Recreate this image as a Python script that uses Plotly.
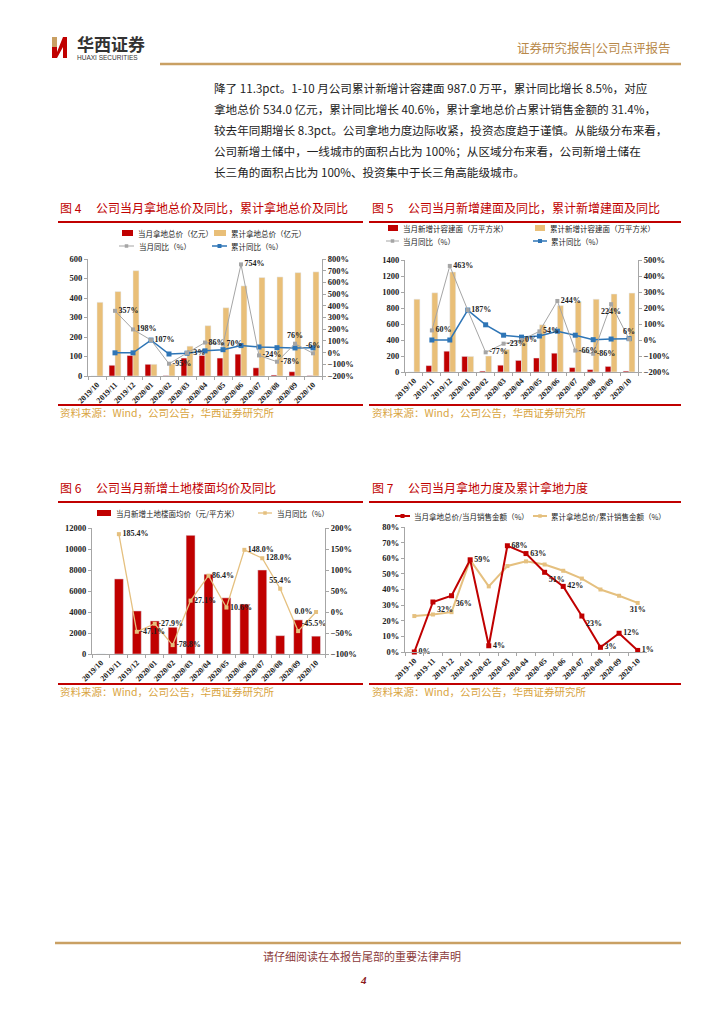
import plotly.graph_objects as go

W, H = 724, 1024
OFF = 8  # page body margin of the browser
def px(x): return (x - OFF) / W
def py(y): return 1 - (y - OFF) / H

# ---------------- data ----------------
months_slash = ["2019/10", "2019/11", "2019/12", "2020/01", "2020/02", "2020/03", "2020/04",
                "2020/05", "2020/06", "2020/07", "2020/08", "2020/09", "2020/10"]
months_dash = [m.replace("/", "-") for m in months_slash]

# Fig 4
land_month = [0, 55, 105, 60, 2, 92, 105, 92, 112, 42, 5, 22, 2]
land_cum = [378, 433, 540, 60, 62, 153, 258, 350, 462, 505, 508, 530, 534]
land_month_yoy = [None, 357, 198, 107, -95, -3, 86, 70, 754, -24, -78, 76, -6]
land_cum_yoy = [None, -2, -2, 107, -12, -5, 15, 25, 60, 48, 42, 40, 40.6]

# Fig 5
area_month = [0, 80, 260, 195, 12, 85, 145, 175, 235, 55, 30, 70, 12]
area_cum = [910, 990, 1250, 195, 200, 282, 425, 590, 830, 880, 910, 975, 987]
area_month_yoy = [None, 60, 463, 187, -77, -23, 0, 54, 244, -66, -86, 224, 6]
area_cum_yoy = [None, 0, 0, 187, 95, 30, 18, 25, 55, 30, 2, 6, 8.5]

# Fig 6
price = [0, 7150, 4100, 3150, 2550, 11300, 7600, 5350, 4750, 8000, 1750, 3250, 1700]
price_yoy = [None, 185.4, -47.1, -27.9, -78.8, 27.1, 86.4, 10.6, 148.0, 128.0, 55.4, -45.5, 0.0]

# Fig 7
ratio_month = [0, 32, 36, 59, 4, 68, 63, 51, 42, 23, 3, 12, 1]
ratio_cum = [23, 24, 25.5, 59, 42, 55, 58, 56, 52, 47, 40, 36, 31.4]

# ---------------- styles ----------------
RED = "#C00000"
GOLD = "#E9BF78"
GRAY = "#A5A5A5"
BLUE = "#2E75B6"
LGOLD = "#E5C07F"
CJK = "Noto Sans CJK SC"
SERIF = "Liberation Serif"
AX = "#A6A6A6"

def pct_labels(vals, fmt="{:.0f}%"):
    return ["" if v is None else fmt.format(v) for v in vals]

lab_font = dict(family=SERIF, size=8, color="#222", weight="bold")

fig = go.Figure()

# ---- Fig 4 ----
fig.add_bar(x=months_slash, y=land_month, marker_color=RED, width=0.33, offset=-0.33,
            xaxis="x", yaxis="y")
fig.add_bar(x=months_slash, y=land_cum, marker_color=GOLD, width=0.33, offset=0.0,
            xaxis="x", yaxis="y")
fig.add_scatter(x=months_slash, y=land_cum_yoy, mode="lines+markers",
                line=dict(color=BLUE, width=1.5), marker=dict(symbol="square", size=5, color=BLUE),
                xaxis="x", yaxis="y2", cliponaxis=False)
pos4 = ["middle right"] * 13
pos4[11] = "top center"
pos4[12] = "top center"
fig.add_scatter(x=months_slash, y=land_month_yoy, mode="lines+markers+text",
                text=pct_labels(land_month_yoy), textposition=pos4, textfont=lab_font,
                line=dict(color=GRAY, width=1), marker=dict(symbol="square", size=4, color=GRAY),
                xaxis="x", yaxis="y2", cliponaxis=False)

# ---- Fig 5 ----
fig.add_bar(x=months_slash, y=area_month, marker_color=RED, width=0.33, offset=-0.33,
            xaxis="x2", yaxis="y3")
fig.add_bar(x=months_slash, y=area_cum, marker_color=GOLD, width=0.33, offset=0.0,
            xaxis="x2", yaxis="y3")
fig.add_scatter(x=months_slash, y=area_cum_yoy, mode="lines+markers",
                line=dict(color=BLUE, width=1.5), marker=dict(symbol="square", size=5, color=BLUE),
                xaxis="x2", yaxis="y4", cliponaxis=False)
pos5 = ["middle right"] * 13
pos5[11] = "bottom center"
pos5[12] = "top center"
fig.add_scatter(x=months_slash, y=area_month_yoy, mode="lines+markers+text",
                text=pct_labels(area_month_yoy), textposition=pos5, textfont=lab_font,
                line=dict(color=GRAY, width=1), marker=dict(symbol="square", size=4, color=GRAY),
                xaxis="x2", yaxis="y4", cliponaxis=False)

# ---- Fig 6 ----
fig.add_bar(x=months_slash, y=price, marker_color=RED, width=0.5, offset=-0.25,
            xaxis="x3", yaxis="y5")
pos6 = ["middle right"] * 13
pos6[10] = "top center"
pos6[11] = "top right"
pos6[12] = "middle left"
fig.add_scatter(x=months_slash, y=price_yoy, mode="lines+markers+text",
                text=pct_labels(price_yoy, "{:.1f}%"), textposition=pos6, textfont=lab_font,
                line=dict(color=LGOLD, width=1.3), marker=dict(symbol="square", size=4, color=LGOLD),
                xaxis="x3", yaxis="y6", cliponaxis=False)

# ---- Fig 7 ----
fig.add_scatter(x=months_dash, y=ratio_cum, mode="lines+markers+text",
                text=[""] * 12 + ["{:.0f}%".format(ratio_cum[-1])],
                textposition=["bottom center"] * 13, textfont=lab_font,
                line=dict(color=LGOLD, width=2), marker=dict(symbol="square", size=4, color=LGOLD),
                xaxis="x4", yaxis="y7", cliponaxis=False)
pos7 = ["middle right"] * 13
for i in (1, 2, 7, 9):
    pos7[i] = "bottom right"
fig.add_scatter(x=months_dash, y=ratio_month, mode="lines+markers+text",
                text=pct_labels(ratio_month), textposition=pos7, textfont=lab_font,
                line=dict(color=RED, width=2), marker=dict(symbol="square", size=5, color=RED),
                xaxis="x4", yaxis="y7", cliponaxis=False)

# ---------------- axes ----------------
tick_font = dict(family=SERIF, size=8.5, color="#222", weight="bold")
xtick_font = dict(family=SERIF, size=8, color="#222", weight="bold")

def xax(dom, anchor):
    return dict(domain=dom, anchor=anchor, type="category", tickangle=-45, tickfont=xtick_font,
                showline=True, linecolor=AX, linewidth=1, ticks="outside", tickcolor=AX, ticklen=3,
                tickson="boundaries", showgrid=False, zeroline=False, range=[-0.5, 12.5],
                fixedrange=True, automargin=False)

def yax(dom, anchor, rng, dtick, suffix="", side="left", overlay=None):
    d = dict(anchor=anchor, range=rng, dtick=dtick, ticksuffix=suffix, side=side, tickfont=tick_font,
             showline=True, linecolor=AX, linewidth=1, ticks="outside", tickcolor=AX, ticklen=3,
             showgrid=False, zeroline=False, fixedrange=True, tickformat="d", automargin=False)
    if overlay:
        d["overlaying"] = overlay
    else:
        d["domain"] = dom
    return d

fig.update_layout(
    xaxis=xax([px(88), px(322)], "y"),
    yaxis=yax([py(376), py(259)], "x", [0, 600], 100),
    yaxis2=yax(None, "x", [-200, 800], 100, "%", "right", "y"),
    xaxis2=xax([px(405), px(638)], "y3"),
    yaxis3=yax([py(372), py(260)], "x2", [0, 1400], 200),
    yaxis4=yax(None, "x2", [-200, 500], 100, "%", "right", "y3"),
    xaxis3=xax([px(92), px(325)], "y5"),
    yaxis5=yax([py(654), py(528)], "x3", [0, 12000], 2000),
    yaxis6=yax(None, "x3", [-100, 200], 50, "%", "right", "y5"),
    xaxis4=xax([px(405), px(647)], "y7"),
    yaxis7=yax([py(652), py(527)], "x4", [0, 80], 10, "%"),
)

# ---------------- shapes & annotations ----------------
shapes = []
ann = []

def hline(x0, x1, y, color, w):
    shapes.append(dict(type="line", xref="paper", yref="paper", x0=px(x0), x1=px(x1),
                       y0=py(y), y1=py(y), line=dict(color=color, width=w)))

def rect(x0, y0, x1, y1, color):
    shapes.append(dict(type="rect", xref="paper", yref="paper", x0=px(x0), x1=px(x1),
                       y0=py(y1), y1=py(y0), fillcolor=color, line=dict(width=0)))

def text(x, y, s, size, color="#222", family=CJK, xanchor="left", weight="normal", style="normal"):
    ann.append(dict(x=px(x), y=py(y), xref="paper", yref="paper", text=s, showarrow=False,
                    xanchor=xanchor, yanchor="middle",
                    font=dict(size=size, color=color, family=family, weight=weight, style=style)))

def leg_line(x0, x1, y, color, w, msize):
    hline(x0, x1, y, color, w)
    m = (x0 + x1) / 2
    rect(m - msize / 2, y - msize / 2, m + msize / 2, y + msize / 2, color)

# header
rect(52, 37, 57, 47, "#C9A063")
rect(52, 47, 57, 58, RED)
shapes.append(dict(type="path", xref="paper", yref="paper",
                   path="M {a},{b} L {c},{d} L {e},{d} L {e},{f} L {g},{f} L {g},{h} L {a},{i} Z".format(
                       a=px(57), b=py(52), c=px(63), d=py(37), e=px(67), f=py(58), g=px(63),
                       h=py(47), i=py(58)),
                   fillcolor=RED, line=dict(width=0)))
text(75, 43, "华西证券", 17, "#333", weight="bold")
text(75, 57, "HUAXI SECURITIES", 6.5, "#333", family="Liberation Sans")
text(672, 47, "证券研究报告|公司点评报告", 12.5, "#B8894A", xanchor="right")
hline(160, 681, 64, "#C9A063", 2.5)

# body text
body = [
    "降了 11.3pct。1-10 月公司累计新增计容建面 987.0 万平，累计同比增长 8.5%，对应",
    "拿地总价 534.0 亿元，累计同比增长 40.6%，累计拿地总价占累计销售金额的 31.4%，",
    "较去年同期增长 8.3pct。公司拿地力度边际收紧，投资态度趋于谨慎。从能级分布来看，",
    "公司新增土储中，一线城市的面积占比为 100%；从区域分布来看，公司新增土储在",
    "长三角的面积占比为 100%、投资集中于长三角高能级城市。",
]
for i, line in enumerate(body):
    text(212, 88 + 21 * i, line, 11.6, "#222")

# chart titles / rules / sources
SRC = "资料来源：Wind，公司公告，华西证券研究所"
SRC_C = "#D9A441"
text(58, 207, "图 4　 公司当月拿地总价及同比，累计拿地总价及同比", 12, RED)
text(370, 207, "图 5　 公司当月新增建面及同比，累计新增建面及同比", 12, RED)
text(58, 487, "图 6　 公司当月新增土地楼面均价及同比", 12, RED)
text(370, 487, "图 7　 公司当月拿地力度及累计拿地力度", 12, RED)
hline(58, 363, 222, RED, 2)
hline(369, 681, 222, RED, 2)
hline(58, 363, 405, RED, 2)
hline(369, 681, 405, RED, 2)
hline(58, 363, 502, RED, 2)
hline(369, 681, 502, RED, 2)
hline(58, 363, 684, RED, 2)
hline(369, 681, 684, RED, 2)
text(58, 412, SRC, 10.5, SRC_C)
text(370, 412, SRC, 10.5, SRC_C)
text(58, 691, SRC, 10.5, SRC_C)
text(370, 691, SRC, 10.5, SRC_C)

# legends
LS = 7.5
rect(122, 230, 133, 236, RED); text(136, 233, "当月拿地总价（亿元）", LS)
rect(214, 230, 226, 236, GOLD); text(229, 233, "累计拿地总价（亿元）", LS)
leg_line(119, 134, 246, GRAY, 1, 3.5); text(137, 246, "当月同比（%）", LS)
leg_line(212, 227, 246, BLUE, 1.5, 4); text(229, 246, "累计同比（%）", LS)

rect(388, 225, 398, 231, RED); text(401, 228, "当月新增计容建面（万平方米）", LS)
rect(535, 225, 545, 231, GOLD); text(548, 228, "累计新增计容建面（万平方米）", LS)
leg_line(386, 399, 241, GRAY, 1, 3.5); text(401, 241, "当月同比（%）", LS)
leg_line(533, 547, 241, BLUE, 1.5, 4); text(549, 241, "累计同比（%）", LS)

rect(97, 510, 111, 516, RED); text(114, 513, "当月新增土地楼面均价（元/平方米）", LS)
leg_line(258, 272, 513, LGOLD, 1.3, 3.5); text(275, 513, "当月同比（%）", LS)

leg_line(395, 410, 516, RED, 2, 4); text(412, 516, "当月拿地总价/当月销售金额（%）", LS)
leg_line(533, 547, 516, LGOLD, 2, 3.5); text(549, 516, "累计拿地总价/累计销售金额（%）", LS)

# footer
hline(55, 681, 943, "#C9A063", 2.5)
text(362, 956, "请仔细阅读在本报告尾部的重要法律声明", 11, "#8B3A3A", xanchor="center")
text(363, 980, "4", 11, "#8B1A1A", family=SERIF, xanchor="center", weight="bold", style="italic")

fig.update_layout(
    width=W, height=H, margin=dict(l=0, r=0, t=0, b=0, autoexpand=False),
    paper_bgcolor="white", plot_bgcolor="white", showlegend=False,
    barmode="overlay", shapes=shapes, annotations=ann,
    font=dict(family=CJK),
)

fig.write_html("out.html")
